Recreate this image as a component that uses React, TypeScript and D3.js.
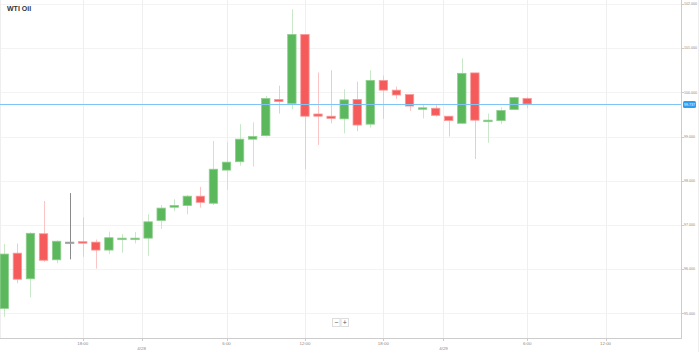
import { useEffect, useRef } from 'react';
import * as d3 from 'd3';

// hourly WTI candles
const OPEN = [95.11, 96.36, 95.78, 96.80, 96.21, 96.61, 96.62, 96.61, 96.43, 96.68, 96.68, 96.70, 97.10, 97.40, 97.44, 97.65, 97.49, 98.24, 98.43, 98.94, 99.02, 99.84, 99.75, 101.31, 99.51, 99.46, 99.40, 99.84, 99.28, 100.27, 100.05, 99.95, 99.63, 99.64, 99.46, 99.30, 100.44, 99.34, 99.36, 99.61, 99.86];
const HIGH = [96.57, 96.58, 96.83, 97.54, 96.65, 97.72, 97.17, 96.67, 96.85, 96.79, 96.84, 97.24, 97.45, 97.58, 97.68, 97.86, 98.90, 98.87, 99.28, 99.32, 99.92, 100.15, 101.88, 101.31, 100.45, 100.50, 100.07, 100.24, 100.50, 100.38, 100.13, 99.95, 99.73, 99.73, 99.46, 100.77, 100.44, 99.52, 99.66, 99.90, 99.89];
const LOW = [94.92, 95.68, 95.36, 96.16, 96.13, 96.22, 96.28, 96.01, 96.34, 96.37, 96.58, 96.30, 96.91, 97.31, 97.24, 97.39, 97.45, 97.79, 98.34, 98.32, 99.00, 99.52, 99.62, 98.26, 98.81, 99.30, 99.07, 99.12, 99.20, 99.40, 99.85, 99.58, 99.41, 99.45, 99.00, 99.30, 98.49, 98.86, 99.28, 99.61, 99.64];
const CLOSE = [96.34, 95.77, 96.81, 96.20, 96.63, 96.61, 96.60, 96.43, 96.71, 96.70, 96.70, 97.07, 97.38, 97.44, 97.65, 97.51, 98.26, 98.42, 98.94, 99.00, 99.86, 99.79, 101.31, 99.46, 99.46, 99.41, 99.83, 99.26, 100.27, 100.05, 99.94, 99.69, 99.65, 99.48, 99.36, 100.43, 99.37, 99.37, 99.59, 99.88, 99.737];

const X_TICKS = [6, 10.5, 17, 23, 29, 33.6, 40, 46];
const X_LABELS = ['18:00', '4/28', '6:00', '12:00', '18:00', '4/29', '6:00', '12:00'];
const Y_TICKS = [95, 96, 97, 98, 99, 100, 101, 102];

export default function App() {
  const ref = useRef<SVGSVGElement>(null);

  useEffect(() => {
    if (!ref.current) return;
    const svg = d3.select(ref.current);
    svg.selectAll('*').remove();

    const W = 681, H = 338;
    const x = d3.scaleLinear().domain([-0.33, 51.77]).range([0, W]);
    const y = d3.scaleLinear().domain([94.44, 102.09]).range([H, 0]);
    const bw = 8.4;
    const font = 'Liberation Sans, Arial, sans-serif';

    // grid
    svg.append('g').selectAll('line').data(Y_TICKS).join('line')
      .attr('x1', 0).attr('x2', W)
      .attr('y1', d => Math.round(y(d)) + 0.5).attr('y2', d => Math.round(y(d)) + 0.5)
      .attr('stroke', '#f3f3f3');
    svg.append('g').selectAll('line').data(X_TICKS).join('line')
      .attr('x1', d => Math.round(x(d)) + 0.5).attr('x2', d => Math.round(x(d)) + 0.5)
      .attr('y1', 0).attr('y2', H)
      .attr('stroke', '#efefef');

    // frame
    svg.append('line').attr('x1', 0.5).attr('x2', 0.5).attr('y1', 0).attr('y2', H).attr('stroke', '#eee');
    svg.append('line').attr('x1', W + 0.5).attr('x2', W + 0.5).attr('y1', 0).attr('y2', H + 1).attr('stroke', '#ccc');
    svg.append('line').attr('x1', 0).attr('x2', W + 1).attr('y1', H + 0.5).attr('y2', H + 0.5).attr('stroke', '#ccc');
    svg.append('line').attr('x1', 698.5).attr('x2', 698.5).attr('y1', 0).attr('y2', 352).attr('stroke', '#eee');

    const idx = d3.range(OPEN.length);
    const col = (i: number) => CLOSE[i] > OPEN[i] ? 'up' : CLOSE[i] < OPEN[i] ? 'down' : 'flat';
    const wickCol: Record<string, string> = { up: '#c9e8c9', down: '#fbc5c5', flat: '#8a8a8a' };
    const fillCol: Record<string, string> = { up: '#5cb85c', down: '#f65b5b', flat: '#8a8a8a' };
    const edgeCol: Record<string, string> = { up: '#8fcf8f', down: '#f99a9a', flat: '#aaa' };

    // wicks
    svg.append('g').selectAll('line').data(idx).join('line')
      .attr('x1', i => Math.round(x(i)) + 0.5).attr('x2', i => Math.round(x(i)) + 0.5)
      .attr('y1', i => y(HIGH[i])).attr('y2', i => y(LOW[i]))
      .attr('stroke', i => wickCol[col(i)]);

    // bodies
    svg.append('g').selectAll('rect').data(idx).join('rect')
      .attr('x', i => x(i) - bw / 2)
      .attr('y', i => y(Math.max(OPEN[i], CLOSE[i])))
      .attr('width', bw)
      .attr('height', i => Math.max(1.5, Math.abs(y(OPEN[i]) - y(CLOSE[i]))))
      .attr('fill', i => fillCol[col(i)])
      .attr('stroke', i => edgeCol[col(i)])
      .attr('stroke-width', 0.8);

    // current price line
    const last = CLOSE[CLOSE.length - 1];
    const ly = Math.round(y(last)) + 0.5;
    svg.append('line').attr('x1', 0).attr('x2', W).attr('y1', ly).attr('y2', ly)
      .attr('stroke', '#80c4f5').attr('stroke-width', 1);
    svg.append('rect').attr('x', 683).attr('y', ly - 3.5).attr('width', 13).attr('height', 7)
      .attr('rx', 1.5).attr('fill', '#2d9ff2');
    svg.append('text').attr('x', 689.5).attr('y', ly + 1.3).attr('text-anchor', 'middle')
      .attr('fill', '#fff').attr('font-size', 3.6).attr('font-family', font)
      .text(d3.format('.3f')(last));

    // y axis labels
    const yl = svg.append('g');
    yl.selectAll('line').data(Y_TICKS).join('line')
      .attr('x1', W + 1).attr('x2', W + 3)
      .attr('y1', d => Math.round(y(d)) + 0.5).attr('y2', d => Math.round(y(d)) + 0.5)
      .attr('stroke', '#ccc');
    yl.selectAll('text').data(Y_TICKS).join('text')
      .attr('x', 684).attr('y', d => y(d) + 1.3)
      .attr('fill', '#888').attr('font-size', 3.6).attr('font-family', font)
      .text(d => d3.format('.3f')(d));

    // x axis labels
    const xl = svg.append('g');
    xl.selectAll('line').data(X_TICKS).join('line')
      .attr('x1', d => Math.round(x(d)) + 0.5).attr('x2', d => Math.round(x(d)) + 0.5)
      .attr('y1', H + 1).attr('y2', H + 3)
      .attr('stroke', '#ccc');
    xl.selectAll('text').data(X_TICKS).join('text')
      .attr('x', d => x(d)).attr('y', (_, i) => X_LABELS[i].includes('/') ? 350 : 344.5)
      .attr('text-anchor', 'middle')
      .attr('fill', '#888').attr('font-size', 4.4).attr('font-family', font)
      .text((_, i) => X_LABELS[i]);

    // zoom buttons
    const zb = svg.append('g');
    ['\u2212', '+'].forEach((s, i) => {
      zb.append('rect').attr('x', 332.5 + i * 8.5).attr('y', 318.5).attr('width', 7.5).attr('height', 8)
        .attr('fill', '#fff').attr('stroke', '#ddd');
      zb.append('text').attr('x', 336.3 + i * 8.5).attr('y', 325).attr('text-anchor', 'middle')
        .attr('font-size', 7).attr('font-family', font).attr('fill', '#555').text(s);
    });

    // title
    svg.append('text').attr('x', 7).attr('y', 11)
      .attr('font-size', 7).attr('font-weight', 'bold').attr('font-family', font)
      .attr('fill', '#333').text('WTI Oil');
  }, []);

  return (
    <svg ref={ref} width={699} height={352}
      style={{ position: 'absolute', left: 0, top: 0, background: '#fff' }} />
  );
}
